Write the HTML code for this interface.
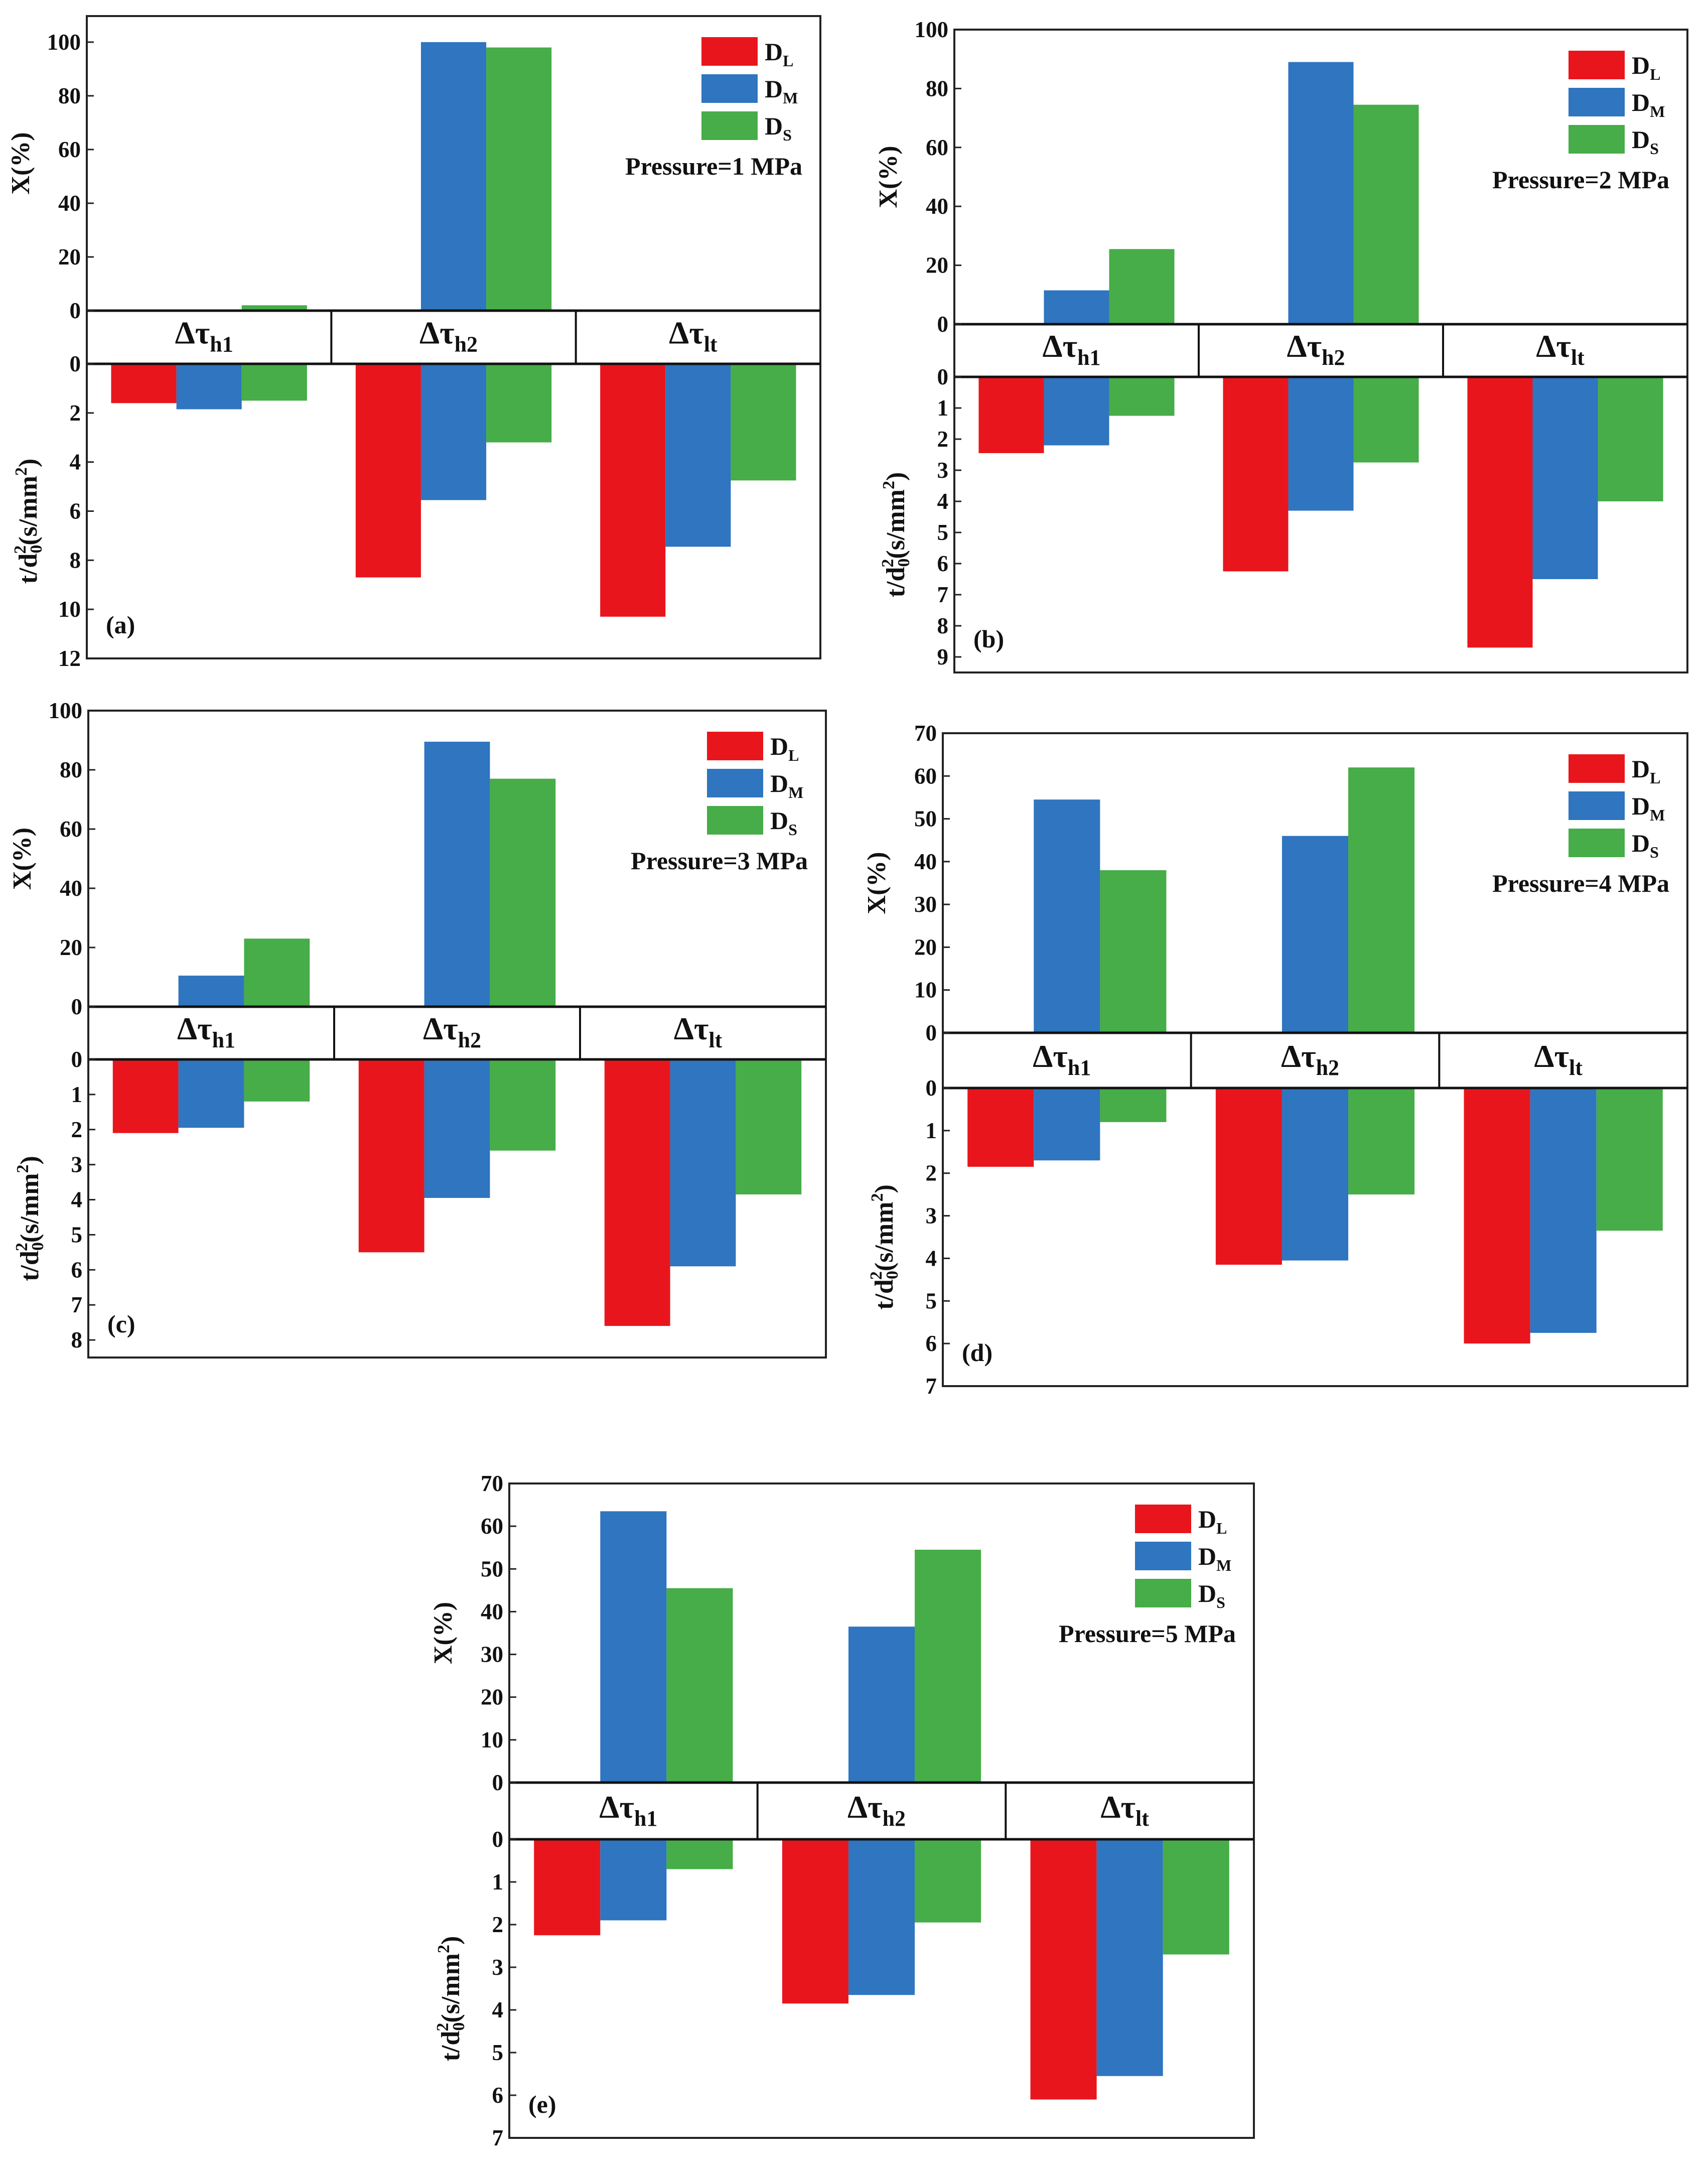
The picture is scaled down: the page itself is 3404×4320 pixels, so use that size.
<!DOCTYPE html>
<html><head><meta charset="utf-8">
<style>
html,body{margin:0;padding:0;background:#fff;}
svg{display:block;}
text{font-family:"Liberation Serif",serif;font-weight:bold;fill:#111;}
</style></head>
<body>
<svg id="fig" width="3404" height="4320" viewBox="0 0 3404 4320" xmlns="http://www.w3.org/2000/svg"></svg>
<script>
// ---- data ----
const categories = ["h1", "h2", "lt"];
const seriesNames = ["L", "M", "S"];
const pressures = ["1", "2", "3", "4", "5"];
const panelLabels = ["(a)", "(b)", "(c)", "(d)", "(e)"];
// X (%) values per panel, per series [h1,h2,lt]
const xA_L = [0, 0, 0],   xA_M = [0, 100, 0],   xA_S = [2, 98, 0];
const xB_L = [0, 0, 0],   xB_M = [11.5, 89, 0], xB_S = [25.5, 74.5, 0];
const xC_L = [0, 0, 0],   xC_M = [10.5, 89.5, 0], xC_S = [23, 77, 0];
const xD_L = [0, 0, 0],   xD_M = [54.5, 46, 0], xD_S = [38, 62, 0];
const xE_L = [0, 0, 0],   xE_M = [63.5, 36.5, 0], xE_S = [45.5, 54.5, 0];
// t/d0^2 values
const tA_L = [1.6, 8.7, 10.3], tA_M = [1.85, 5.55, 7.45], tA_S = [1.5, 3.2, 4.75];
const tB_L = [2.45, 6.25, 8.7], tB_M = [2.2, 4.3, 6.5], tB_S = [1.25, 2.75, 4.0];
const tC_L = [2.1, 5.5, 7.6], tC_M = [1.95, 3.95, 5.9], tC_S = [1.2, 2.6, 3.85];
const tD_L = [1.85, 4.15, 6.0], tD_M = [1.7, 4.05, 5.75], tD_S = [0.8, 2.5, 3.35];
const tE_L = [2.25, 3.85, 6.1], tE_M = [1.9, 3.65, 5.55], tE_S = [0.7, 1.95, 2.7];
// tick labels
const topTicksA = [0, 20, 40, 60, 80, 100];
const topTicksD = [0, 10, 20, 30, 40, 50, 60, 70];
const botTicksA = [0, 2, 4, 6, 8, 10, 12];
const botTicksB = [0, 1, 2, 3, 4, 5, 6, 7, 8, 9];
const botTicksC = [0, 1, 2, 3, 4, 5, 6, 7, 8];
const botTicksD = [0, 1, 2, 3, 4, 5, 6, 7];

const colors = {L: "#e8161c", M: "#2f75bf", S: "#46ad48"};

// layout (pixels)
const panels = [
 {L:173, R:1635, T:32, Z:619, B2:725, Bt:1312, topMax:109.7, botMax:12.0, x:[xA_L,xA_M,xA_S], t:[tA_L,tA_M,tA_S], tt:topTicksA, bt:botTicksA},
 {L:1902, R:3363, T:59, Z:646, B2:751, Bt:1340, topMax:100, botMax:9.5, x:[xB_L,xB_M,xB_S], t:[tB_L,tB_M,tB_S], tt:topTicksA, bt:botTicksB},
 {L:176, R:1646, T:1416, Z:2006, B2:2111, Bt:2705, topMax:100, botMax:8.5, x:[xC_L,xC_M,xC_S], t:[tC_L,tC_M,tC_S], tt:topTicksA, bt:botTicksC},
 {L:1879, R:3363, T:1461, Z:2058, B2:2168, Bt:2762, topMax:70, botMax:7, x:[xD_L,xD_M,xD_S], t:[tD_L,tD_M,tD_S], tt:topTicksD, bt:botTicksD},
 {L:1015, R:2499, T:2956, Z:3552, B2:3665, Bt:4260, topMax:70, botMax:7, x:[xE_L,xE_M,xE_S], t:[tE_L,tE_M,tE_S], tt:topTicksD, bt:botTicksD}
];

const NS = "http://www.w3.org/2000/svg";
const svg = document.getElementById("fig");
function mk(tag, attrs, parent){
  const e = document.createElementNS(NS, tag);
  for (const k in attrs) e.setAttribute(k, attrs[k]);
  (parent||svg).appendChild(e);
  return e;
}

panels.forEach((p, pi) => {
  const g = mk("g", {});
  
  
  const W = p.R - p.L;
  const cw = W / 3;
  const bw = cw * 0.267;
  const yTop = v => p.Z - v / p.topMax * (p.Z - p.T);
  const yBot = v => p.B2 + v / p.botMax * (p.Bt - p.B2);
  const xBar = (ci, si) => p.L + cw * ci + cw / 2 + (si - 1.5) * bw;

  const fr = mk("rect", {x:p.L, y:p.T, width:W, height:p.Bt-p.T, fill:"#fff", stroke:"#222", "stroke-width":4}, g);
  
  

  for (let si = 0; si < 3; si++) {
    for (let ci = 0; ci < 3; ci++) {
      const v = p.x[si][ci];
      if (v > 0) {
        const y = yTop(v);
        const r = mk("rect", {x:xBar(ci,si), y:y, width:bw, height:p.Z-y, fill:colors[seriesNames[si]]}, g);
        
        
      }
      const tv = p.t[si][ci];
      const y2 = yBot(tv);
      const r2 = mk("rect", {x:xBar(ci,si), y:p.B2, width:bw, height:y2-p.B2, fill:colors[seriesNames[si]]}, g);
      
      
    }
  }

  mk("line", {x1:p.L, x2:p.R, y1:p.Z, y2:p.Z, stroke:"#111", "stroke-width":5}, g);
  mk("line", {x1:p.L, x2:p.R, y1:p.B2, y2:p.B2, stroke:"#111", "stroke-width":5}, g);
  for (let ci = 1; ci < 3; ci++) {
    const xx = p.L + cw * ci;
    mk("line", {x1:xx, x2:xx, y1:p.Z, y2:p.B2, stroke:"#111", "stroke-width":4}, g);
  }
  categories.forEach((c, ci) => {
    const t = mk("text", {x:p.L + cw*ci + cw/2 - 10, y:p.Z + (p.B2-p.Z)*0.62, "font-size":64, "text-anchor":"middle"}, g);
    
    
    const s1 = mk("tspan", {}, t); s1.textContent = "Δτ";
    const s2 = mk("tspan", {"font-size":44, dy:16}, t); s2.textContent = c;
  });

  p.tt.forEach(v => {
    const y = yTop(v);
    mk("line", {x1:p.L, x2:p.L+14, y1:y, y2:y, stroke:"#222", "stroke-width":3}, g);
    const t = mk("text", {x:p.L-12, y:y+15, "font-size":45, "text-anchor":"end"}, g);
    t.textContent = v;
    
    
  });
  p.bt.forEach(v => {
    const y = yBot(v);
    mk("line", {x1:p.L, x2:p.L+14, y1:y, y2:y, stroke:"#222", "stroke-width":3}, g);
    const t = mk("text", {x:p.L-12, y:y+15, "font-size":45, "text-anchor":"end"}, g);
    t.textContent = v;
    
    
  });

  const yc1 = (p.T + p.Z) / 2;
  const at1 = mk("text", {x:p.L-115, y:yc1, "font-size":52, "text-anchor":"middle", transform:`rotate(-90 ${p.L-115} ${yc1})`}, g);
  at1.textContent = "X(%)";
  
  
  const yc2 = (p.B2 + p.Bt) / 2 + 20;
  const at2 = mk("text", {x:p.L-100, y:yc2, "font-size":52, "text-anchor":"middle", transform:`rotate(-90 ${p.L-100} ${yc2})`}, g);
  
  
  const a1 = mk("tspan", {}, at2); a1.textContent = "t/d";
  const a2 = mk("tspan", {"font-size":34, dy:10}, at2); a2.textContent = "0";
  const a3 = mk("tspan", {"font-size":34, dx:-18, dy:-32}, at2); a3.textContent = "2";
  const a4 = mk("tspan", {dy:22}, at2); a4.textContent = "(s/mm";
  const a5 = mk("tspan", {"font-size":34, dy:-20}, at2); a5.textContent = "2";
  const a6 = mk("tspan", {dy:20}, at2); a6.textContent = ")";

  const lx = p.R - 237, ly = p.T + 42;
  seriesNames.forEach((s, si) => {
    const r = mk("rect", {x:lx, y:ly + si*74, width:112, height:57, fill:colors[s]}, g);
    
    
    const t = mk("text", {x:lx+126, y:ly + si*74 + 46, "font-size":50}, g);
    
    
    const d1 = mk("tspan", {}, t); d1.textContent = "D";
    const d2 = mk("tspan", {"font-size":32, dy:12}, t); d2.textContent = s;
  });
  const pt = mk("text", {x:p.R - 36, y:p.T + 316, "font-size":50, "text-anchor":"end"}, g);
  pt.textContent = "Pressure=" + pressures[pi] + " MPa";
  
  

  const pl = mk("text", {x:p.L + 38, y:p.Bt - 50, "font-size":50}, g);
  pl.textContent = panelLabels[pi];
  
  
});
</script>
</body></html>
